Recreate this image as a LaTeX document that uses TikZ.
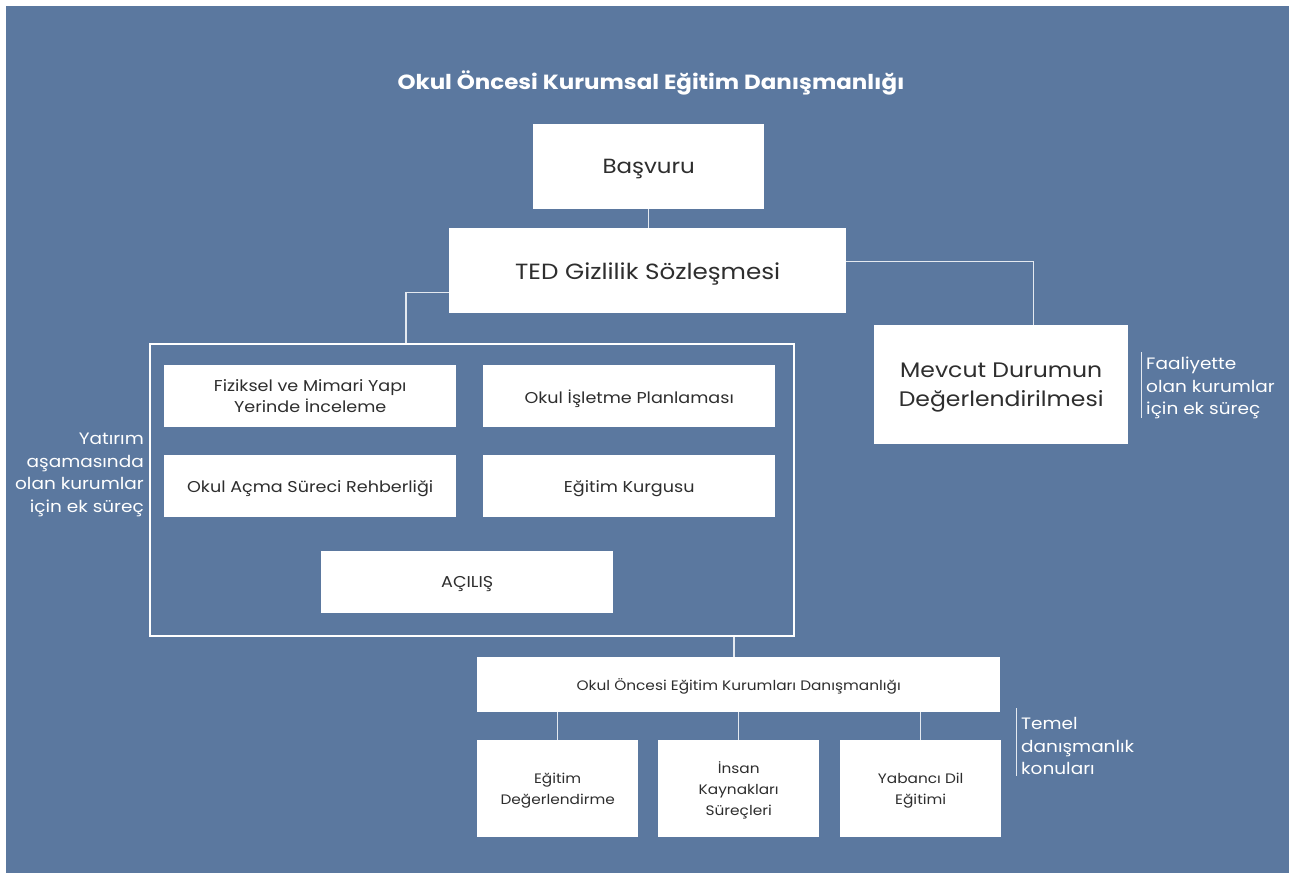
\documentclass[tikz,border=0pt]{standalone}
\usepackage{fontspec}
\setmainfont[FakeStretch=1.12]{Poppins}
\definecolor{bg}{HTML}{5B789F}
\definecolor{txt}{HTML}{2E2E2E}
\definecolor{ln}{HTML}{E4E9F0}
\begin{document}
\begin{tikzpicture}[x=1pt,y=-1pt,
  box/.style={fill=white, draw=none, anchor=north west, inner sep=0pt, align=center, text=txt, text depth=0pt},
  side/.style={text=white, inner sep=0pt, font=\fontsize{16.5}{22.7}\selectfont},
  conn/.style={draw=ln, line width=1.3pt}]
\useasboundingbox (0,0) rectangle (1297,873);
\fill[white] (0,0) rectangle (1297,873);
\fill[bg] (6,6) rectangle (1289,873);
\node[text=white, font=\fontsize{20.5}{24}\selectfont\bfseries] (title) at (651,83) {Okul Öncesi Kurumsal Eğitim Danışmanlığı};
\node[box, minimum width=231, minimum height=85, font=\fontsize{20.5}{26}\selectfont] (basvuru) at (533,124) {Başvuru};
\node[box, minimum width=397, minimum height=85, font=\fontsize{22}{26}\selectfont] (ted) at (449,228) {TED Gizlilik Sözleşmesi};
\node[box, minimum width=254, minimum height=119, font=\fontsize{21}{28.5}\selectfont] (mevcut) at (874,325) {Mevcut Durumun\\Değerlendirilmesi};
\node[draw=white, line width=2.2pt, anchor=north west, inner sep=0pt, minimum width=644, minimum height=292] (frame) at (149,343) {};
\node[box, minimum width=292, minimum height=62, font=\fontsize{15.7}{21}\selectfont] (fiz) at (164,365) {Fiziksel ve Mimari Yapı\\Yerinde İnceleme};
\node[box, minimum width=292, minimum height=62, font=\fontsize{15.7}{21}\selectfont] (isl) at (483,365) {Okul İşletme Planlaması};
\node[box, minimum width=292, minimum height=62, font=\fontsize{15.7}{21}\selectfont] (acma) at (164,455) {Okul Açma Süreci Rehberliği};
\node[box, minimum width=292, minimum height=62, font=\fontsize{15.7}{21}\selectfont] (kurgu) at (483,455) {Eğitim Kurgusu};
\node[box, minimum width=292, minimum height=62, font=\fontsize{15.7}{21}\selectfont] (acilis) at (321,551) {AÇILIŞ};
\node[box, minimum width=523, minimum height=55, font=\fontsize{13.7}{20}\selectfont] (ooekd) at (477,657) {Okul Öncesi Eğitim Kurumları Danışmanlığı};
\node[box, minimum width=161, minimum height=97, font=\fontsize{13.7}{21}\selectfont] (b1) at (477,740) {Eğitim\\Değerlendirme};
\node[box, minimum width=161, minimum height=97, font=\fontsize{13.7}{21}\selectfont] (b2) at (658,740) {İnsan\\Kaynakları\\Süreçleri};
\node[box, minimum width=161, minimum height=97, font=\fontsize{13.7}{21}\selectfont] (b3) at (840,740) {Yabancı Dil\\Eğitimi};
% connectors
\draw[conn] (basvuru.south) -- (basvuru.south |- ted.north);
\draw[conn] ([yshift=9.5]ted.east) -| ([xshift=32]mevcut.north);
\draw[conn] ([yshift=-21.5]ted.west) -| ([xshift=-66]frame.north);
\draw[conn] ([xshift=262]frame.south) -- ([xshift=262]frame.south |- ooekd.north);
\draw[conn] (ooekd.south -| b1.north) -- (b1.north);
\draw[conn] (ooekd.south -| b2.north) -- (b2.north);
\draw[conn] (ooekd.south -| b3.north) -- (b3.north);
% side labels
\node[side, anchor=east, align=right] (lyat) at (144,475) {Yatırım\\aşamasında\\olan kurumlar\\için ek süreç};
\coordinate (fa1) at (1141,352);
\coordinate (fa2) at (1141,418);
\draw[conn, line width=1pt] (fa1) -- (fa2);
\node[side, anchor=west, align=left] (lfaal) at (1146,388) {Faaliyette\\olan kurumlar\\için ek süreç};
\coordinate (te1) at (1016,708);
\coordinate (te2) at (1016,776);
\draw[conn, line width=1pt] (te1) -- (te2);
\node[side, anchor=west, align=left] (ltemel) at (1021,746) {Temel\\danışmanlık\\konuları};
\end{tikzpicture}
\end{document}
